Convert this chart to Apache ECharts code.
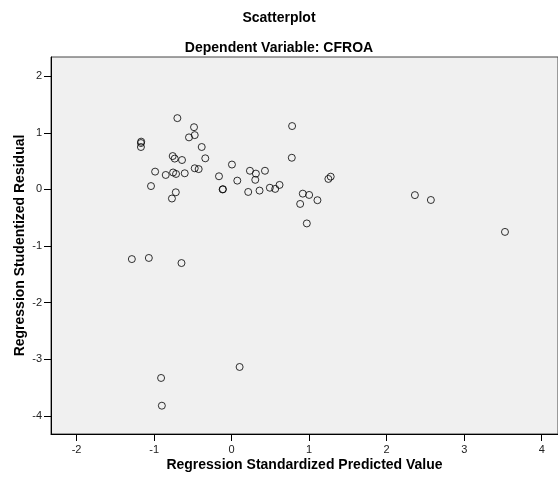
<!DOCTYPE html>
<html>
<head>
<meta charset="utf-8">
<script src="https://cdn.jsdelivr.net/npm/echarts@6/dist/echarts.min.js"></script>
<style>
html,body{margin:0;padding:0;background:#fff;}
#chart{width:558px;height:479px;}
</style>
</head>
<body>
<div id="chart"></div>
<script>
var predicted = [
  -0.70, -0.485, -0.476, -0.55, -1.167, -1.17, -1.17, -0.386, -0.76, -0.734,
  -0.64, -0.34, -0.987, -0.85, -0.755, -0.717, -0.605, -0.476, -0.425, -0.163,
  -1.04, -0.72, -0.77, -1.287, -1.068, -0.647,
  0.004, -0.116, -0.112, 0.073, 0.236, 0.313, 0.305, 0.43, 0.214, 0.36,
  0.493, 0.562, 0.618, 0.78, 0.776, 1.248, 1.278, 0.918, 1.0, 1.107,
  0.884, 0.97,
  2.364, 2.57, 3.526,
  -0.91, -0.90, 0.103
];
var residual = [
  1.26, 1.10, 0.96, 0.92, 0.845, 0.82, 0.75, 0.75, 0.59, 0.545,
  0.52, 0.55, 0.315, 0.256, 0.30, 0.274, 0.286, 0.374, 0.36, 0.233,
  0.06, -0.05, -0.16, -1.23, -1.21, -1.30,
  0.44, 0.0, 0.005, 0.156, 0.33, 0.28, 0.17, 0.33, -0.044, -0.02,
  0.03, 0.01, 0.08, 1.12, 0.56, 0.186, 0.226, -0.074, -0.097, -0.19,
  -0.256, -0.60,
  -0.10, -0.186, -0.75,
  -3.33, -3.82, -3.136
];
var xTicks = [-2, -1, 0, 1, 2, 3, 4];
var yTicks = [-4, -3, -2, -1, 0, 1, 2];
var points = predicted.map(function (v, i) { return [v, residual[i]]; });

var chart = echarts.init(document.getElementById('chart'), null, {renderer: 'canvas'});
var font = '"Liberation Sans", Arial, sans-serif';
chart.setOption({
  animation: false,
  backgroundColor: '#ffffff',
  title: [
    {text: 'Scatterplot', left: 'center', top: 6,
     textStyle: {fontFamily: font, fontSize: 14, fontWeight: 'bold', color: '#000'}},
    {text: 'Dependent Variable: CFROA', left: 'center', top: 36,
     textStyle: {fontFamily: font, fontSize: 14, fontWeight: 'bold', color: '#000'}}
  ],
  grid: {left: 51, top: 57, right: -1, bottom: 45, show: true,
         backgroundColor: '#f0f0f0', borderColor: '#444', borderWidth: 1},
  xAxis: {
    type: 'value', min: -2.33, max: 4.21,
    name: 'Regression Standardized Predicted Value', nameLocation: 'middle', nameGap: 24,
    nameMoveOverlap: false,
    nameTextStyle: {fontFamily: font, fontSize: 14, fontWeight: 'bold', color: '#000'},
    axisLine: {show: true, onZero: false, lineStyle: {color: '#000', width: 1}},
    axisTick: {show: true, length: 7, lineStyle: {color: '#000'}, customValues: xTicks},
    axisLabel: {fontFamily: font, fontSize: 11, color: '#222', margin: 10, customValues: xTicks},
    splitLine: {show: false}
  },
  yAxis: {
    type: 'value', min: -4.32, max: 2.34,
    name: 'Regression Studentized Residual', nameLocation: 'middle', nameGap: 24,
    nameMoveOverlap: false,
    nameTextStyle: {fontFamily: font, fontSize: 14, fontWeight: 'bold', color: '#000'},
    axisLine: {show: true, onZero: false, lineStyle: {color: '#000', width: 1}},
    axisTick: {show: true, length: 7, lineStyle: {color: '#000'}, customValues: yTicks},
    axisLabel: {fontFamily: font, fontSize: 11, color: '#222', margin: 9, customValues: yTicks},
    splitLine: {show: false}
  },
  series: [{
    type: 'scatter',
    data: points,
    symbol: 'circle',
    symbolSize: 7,
    itemStyle: {color: 'rgba(0,0,0,0)', borderColor: '#000', borderWidth: 1}
  }]
});
</script>
</body>
</html>
